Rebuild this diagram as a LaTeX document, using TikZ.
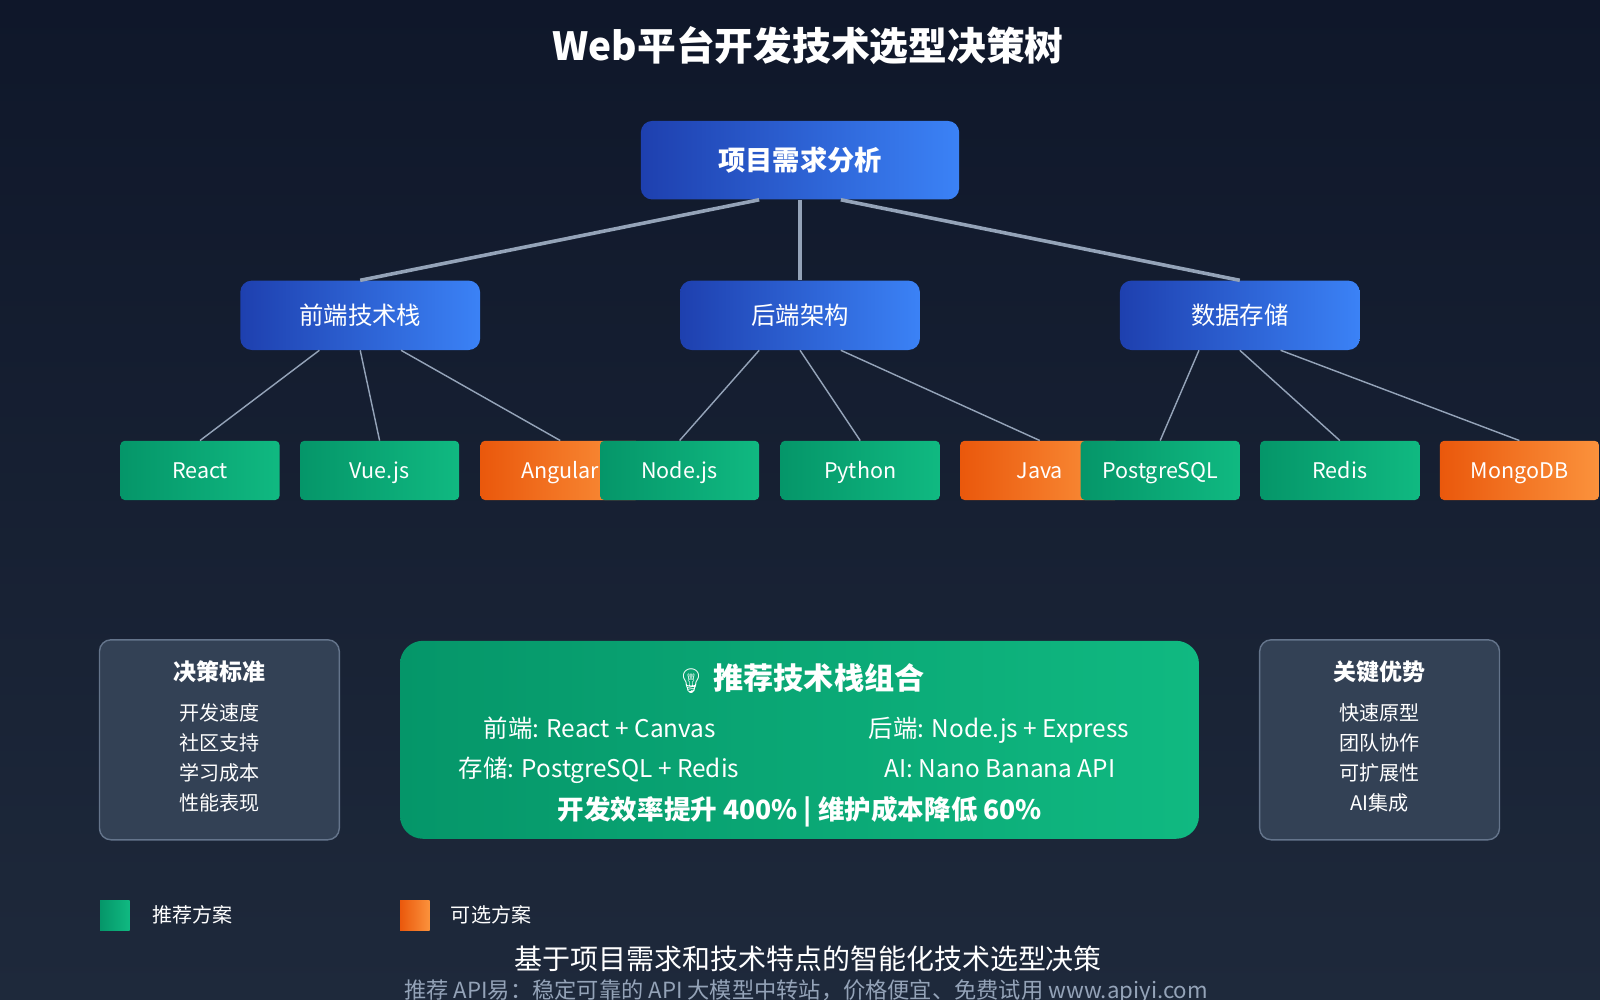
\documentclass[tikz,border=0pt]{standalone}
\usepackage{fontspec}
\setmainfont{Noto Sans CJK SC}
\newfontfamily\emojifont{Noto Emoji}
\usetikzlibrary{positioning}

\definecolor{bgtop}{HTML}{0F172A}
\definecolor{bgbot}{HTML}{1E293B}
\definecolor{bluea}{HTML}{1E40AF}
\definecolor{blueb}{HTML}{3B82F6}
\definecolor{greena}{HTML}{059669}
\definecolor{greenb}{HTML}{10B981}
\definecolor{orangea}{HTML}{EA580C}
\definecolor{orangeb}{HTML}{FB923C}
\definecolor{linegray}{HTML}{94A3B8}
\definecolor{panel}{HTML}{334155}
\definecolor{panelline}{HTML}{64748B}

\tikzset{
  bluebox/.style={rounded corners=8pt, left color=bluea, right color=blueb, text=white, inner sep=0pt},
  leafok/.style={rounded corners=3pt, left color=greena, right color=greenb, text=white,
    minimum width=156*0.025cm, minimum height=58*0.025cm, text height=2.2ex, text depth=0.2ex,
    font=\fontsize{15}{18}\selectfont},
  leafalt/.style={leafok, left color=orangea, right color=orangeb},
  mainlink/.style={draw=linegray, line width=2.5pt},
  sublink/.style={draw=linegray, line width=1pt},
  sidepanel/.style={rounded corners=8pt, fill=panel, draw=panelline, line width=1pt,
    minimum width=235*0.025cm, minimum height=196*0.025cm},
  txt/.style={text=white, font=\fontsize{14}{17}\selectfont},
  stacktxt/.style={text=white, text height=2ex, text depth=0.5ex, font=\fontsize{17}{20}\selectfont},
}

\begin{document}
\begin{tikzpicture}[x=0.025cm, y=-0.025cm]

  % background
  \shade[top color=bgtop, bottom color=bgbot] (0,0) rectangle (1568,980);
  \useasboundingbox (0,0) rectangle (1568,980);

  % title
  \node[text=white, font=\bfseries\fontsize{27}{32}\selectfont] (title) at (792,45) {Web平台开发技术选型决策树};

  % levels
  \node[bluebox, minimum width=312*0.025cm, minimum height=77*0.025cm, font=\bfseries\fontsize{19}{22}\selectfont] (root) at (784,157) {项目需求分析};
  \node[bluebox, minimum width=235*0.025cm, minimum height=68*0.025cm, font=\fontsize{17}{20}\selectfont] (front) at (353,309) {前端技术栈};
  \node[bluebox, minimum width=235*0.025cm, minimum height=68*0.025cm, font=\fontsize{17}{20}\selectfont] (back) at (784,309) {后端架构};
  \node[bluebox, minimum width=235*0.025cm, minimum height=68*0.025cm, font=\fontsize{17}{20}\selectfont] (data) at (1215,309) {数据存储};

  % leaves
  \node[leafok] (react) at (196,461) {React};
  \node[leafok] (vue) at (372,461) {Vue.js};
  \node[leafalt] (angular) at (549,461) {Angular};
  \node[leafok] (node) at (666,461) {Node.js};
  \node[leafok] (python) at (843,461) {Python};
  \node[leafalt] (java) at (1019,461) {Java};
  \node[leafok] (pg) at (1137,461) {PostgreSQL};
  \node[leafok] (redis) at (1313,461) {Redis};
  \node[leafalt] (mongo) at (1489,461) {MongoDB};

  % links
  \draw[mainlink] ([xshift=-40*0.025cm]root.south) -- (front.north);
  \draw[mainlink] (root.south) -- (back.north);
  \draw[mainlink] ([xshift=40*0.025cm]root.south) -- (data.north);
  \foreach \p/\a/\b/\c in {front/react/vue/angular, back/node/python/java, data/pg/redis/mongo} {
    \draw[sublink] ([xshift=-40*0.025cm]\p.south) -- (\a.north);
    \draw[sublink] (\p.south) -- (\b.north);
    \draw[sublink] ([xshift=40*0.025cm]\p.south) -- (\c.north);
  }

  % bottom panels
  \node[sidepanel] (criteria) at (215,725) {};
  \node[txt, font=\bfseries\fontsize{16}{19}\selectfont] (crit0) at (215,658) {决策标准};
  \foreach \t [count=\i] in {开发速度,社区支持,学习成本,性能表现}
    \node[txt] (crit\i) at (215,669+29.5*\i) {\t};

  \node[sidepanel] (merits) at (1352,725) {};
  \node[txt, font=\bfseries\fontsize{16}{19}\selectfont] (merit0) at (1352,658) {关键优势};
  \foreach \t [count=\i] in {快速原型,团队协作,可扩展性,AI集成}
    \node[txt] (merit\i) at (1352,669+29.5*\i) {\t};

  \node[rounded corners=16pt, left color=greena, right color=greenb, minimum width=783*0.025cm, minimum height=194*0.025cm] (stack) at (783.5,725) {};
  \node[text=white, font=\bfseries\fontsize{21}{25}\selectfont] (stacktitle) at (784,665) {{\emojifont\fontsize{17}{20}\selectfont 💡} 推荐技术栈组合};
  \node[stacktxt] (s1) at (588,717) {前端: React + Canvas};
  \node[stacktxt] (s2) at (979,717) {后端: Node.js + Express};
  \node[stacktxt] (s3) at (587,756) {存储: PostgreSQL + Redis};
  \node[stacktxt] (s4) at (980,756) {AI: Nano Banana API};
  \node[txt, font=\bfseries\fontsize{18.5}{22}\selectfont] (s5) at (784,795) {开发效率提升 400\% | 维护成本降低 60\%};

  % legend
  \node[left color=greena, right color=greenb, minimum size=29*0.025cm, inner sep=0pt] (lgok) at (112.5,897) {};
  \node[txt, anchor=west] (lgoktxt) at (144,897) {推荐方案};
  \node[left color=orangea, right color=orangeb, minimum size=29*0.025cm, inner sep=0pt] (lgalt) at (406.5,897) {};
  \node[txt, anchor=west] (lgalttxt) at (437,897) {可选方案};

  % footer
  \node[text=white, font=\fontsize{19.5}{23}\selectfont] (foot) at (792,940) {基于项目需求和技术特点的智能化技术选型决策};
  \node[text=linegray, font=\fontsize{15.5}{18}\selectfont] (ad) at (790,972) {推荐 API易：稳定可靠的 API 大模型中转站，价格便宜、免费试用 www.apiyi.com};
\end{tikzpicture}
\end{document}
